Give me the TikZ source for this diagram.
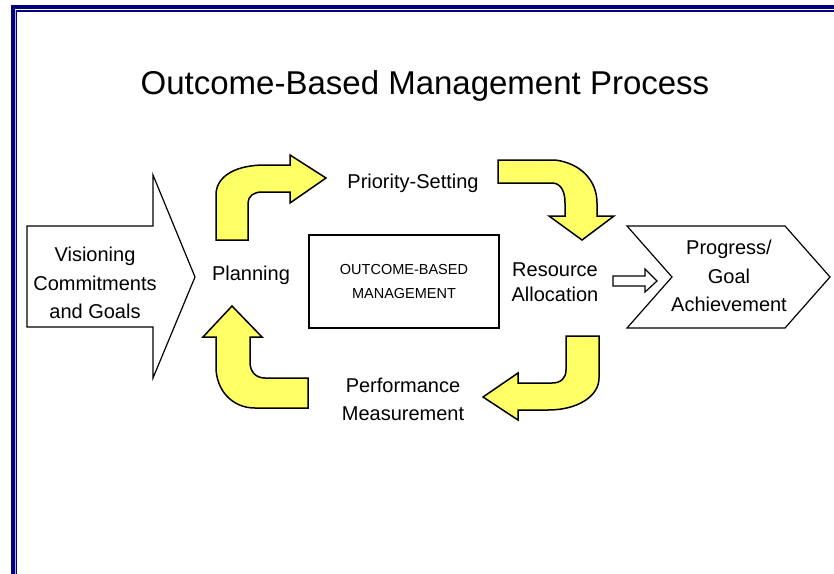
\documentclass[tikz,border=0pt]{standalone}
\usepackage{fontspec}
\setmainfont{Liberation Sans}
\definecolor{frameNavy}{RGB}{0,0,128}
\definecolor{frameLavender}{RGB}{176,176,214}
\definecolor{arrowYellow}{RGB}{255,255,102}

\begin{document}
\begin{tikzpicture}
    [
        x=1pt,y=-1pt,
        YellowArrow/.style={fill=arrowYellow,draw=black,line width=1.5pt,line join=miter},
        WhiteArrow/.style={fill=white,draw=black,line width=1.2pt,line join=miter},
        Label/.style={align=center,inner sep=0pt,font=\fontsize{20}{28.5}\selectfont},
        Core/.style={rectangle,draw,line width=1.3pt,minimum width=190,minimum height=93,align=center,font=\fontsize{14.5}{24}\selectfont}
    ]
    \useasboundingbox (0,0) rectangle (834,573);
    \clip (0,0) rectangle (834,573);
    \fill[white] (0,0) rectangle (834,573);

    \draw[frameNavy,line width=4pt] (13,7) rectangle (900,700);
    \fill[frameLavender] (15,10) rectangle (16,700);
    \draw[frameNavy,line width=1.2pt] (16.5,11) rectangle (900,700);

    \node[font=\fontsize{33}{40}\selectfont] (title) at (425,86) {Outcome-Based Management Process};

    \draw[WhiteArrow] (27,226) -- (153,226) -- (153,175) -- (195,277) -- (153,378) -- (153,327) -- (27,327) -- cycle;
    \draw[WhiteArrow] (627,226) -- (785,226) -- (830,277) -- (785,328) -- (627,328) -- (672,277) -- cycle;
    \draw[WhiteArrow] (613,276) -- (645,276) -- (645,269) -- (657,281) -- (645,292) -- (645,286) -- (613,286) -- cycle;

    \draw[YellowArrow] (216,240) -- (216,195) .. controls (216,178) and (232,166) .. (262,165)
        -- (290,165) -- (290,155) -- (326,178) -- (290,203) -- (290,192) -- (262,192)
        .. controls (254,192) and (248,196) .. (248,203) -- (248,240) -- cycle;
    \draw[YellowArrow] (498,160) -- (555,160) .. controls (580,163) and (597,180) .. (597,203)
        -- (597,216) -- (614,216) -- (582,240) -- (549,216) -- (565,216) -- (565,203)
        .. controls (565,190) and (560,183) .. (552,183) -- (498,183) -- cycle;
    \draw[YellowArrow] (599,336) -- (599,378) .. controls (599,396) and (578,410) .. (548,410)
        -- (518,410) -- (518,420) -- (483,397) -- (518,373) -- (518,383) -- (552,383)
        .. controls (561,383) and (566,378) .. (566,370) -- (566,336) -- cycle;
    \draw[YellowArrow] (308,408) -- (255,408) .. controls (232,408) and (216,390) .. (216,367)
        -- (216,337) -- (203,337) -- (232,306) -- (262,337) -- (250,337) -- (250,362)
        .. controls (250,372) and (256,378) .. (265,378) -- (308,378) -- cycle;

    \node[Label] (visioning) at (95,283) {Visioning\\Commitments\\and Goals};
    \node[Label] (planning) at (251,275) {Planning};
    \node[Label] (priority) at (413,183) {Priority-Setting};
    \node[Core] (core) at (404,281.5) {OUTCOME-BASED\\MANAGEMENT};
    \node[Label,font=\fontsize{20}{25}\selectfont] (resource) at (555,282.5) {Resource\\Allocation};
    \node[Label,font=\fontsize{20}{28}\selectfont] (performance) at (403,399) {Performance\\Measurement};
    \node[Label] (progress) at (729,276) {Progress/\\Goal\\Achievement};
\end{tikzpicture}
\end{document}
